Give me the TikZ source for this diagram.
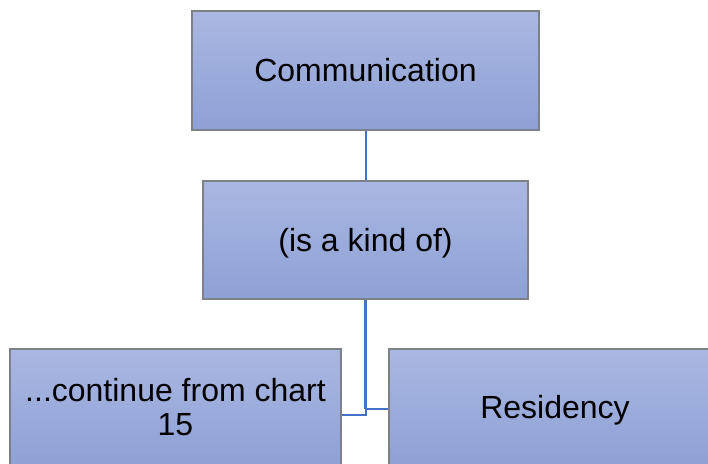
\documentclass[tikz,border=0pt]{standalone}
\usepackage{fontspec}
\setmainfont{Liberation Sans}
\definecolor{boxtop}{RGB}{170,183,225}
\definecolor{boxbot}{RGB}{141,161,214}
\definecolor{boxline}{RGB}{125,128,135}
\definecolor{link}{RGB}{68,114,196}
\tikzset{
  chartbox/.style={rectangle, draw=boxline, line width=0.8pt, top color=boxtop, bottom color=boxbot,
    inner sep=0pt, align=center, font=\fontsize{24}{25}\selectfont, text=black,
    text height=21.7pt, text depth=5.1pt},
  linkline/.style={draw=link, line width=1.5pt},
}
\begin{document}
\begin{tikzpicture}[x=0.75pt,y=-0.75pt]
\useasboundingbox (0,0) rectangle (708,464);
\clip (0,0) rectangle (708,464);
\node[chartbox, minimum width=347*0.75pt, minimum height=119*0.75pt] (comm) at (365.5,70.5) {Communication};
\node[chartbox, minimum width=325*0.75pt, minimum height=118*0.75pt] (kind) at (365.5,240) {(is a kind of)};
\node[chartbox, minimum width=331*0.75pt, minimum height=117*0.75pt, text height=46.7pt] (cont) at (175.5,407.5) {...continue from chart\\15};
\node[chartbox, minimum width=332*0.75pt, minimum height=117*0.75pt] (res) at (555,407.5) {Residency};
\coordinate (j1) at (365.5,409);
\coordinate (j2) at (365.5,415);
\draw[linkline] (comm.south) -- (kind.north);
\draw[linkline, line width=1.8pt] (kind.south) -- (j1);
\draw[linkline] (j1) -- (j1 -| res.west);
\draw[linkline] (j1) -- (j2) -- (j2 -| cont.east);
\end{tikzpicture}
\end{document}
